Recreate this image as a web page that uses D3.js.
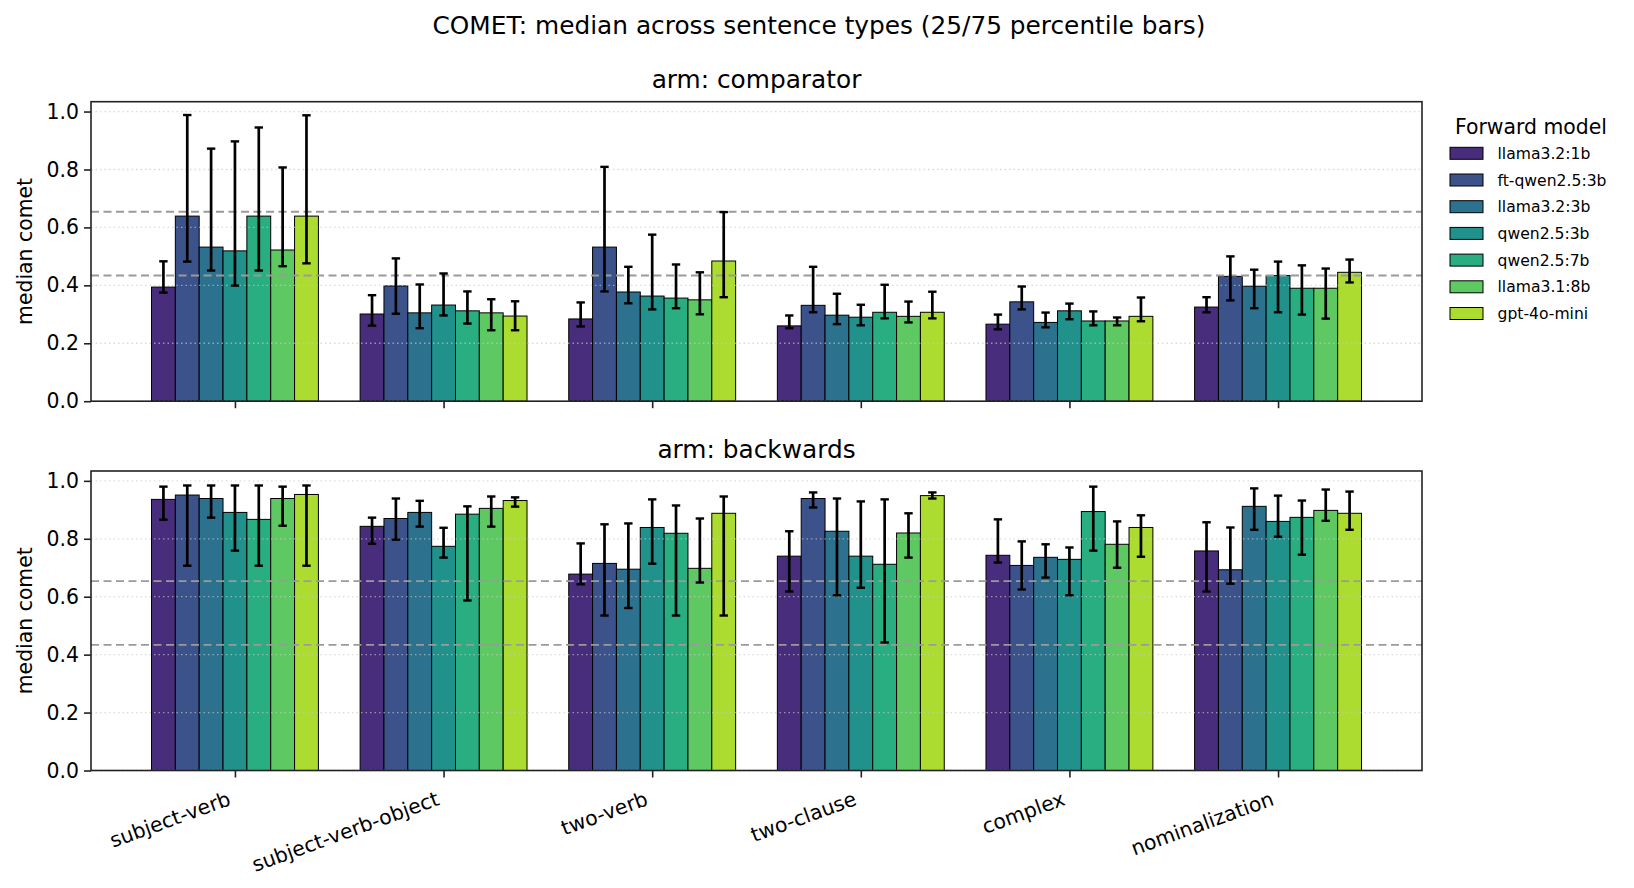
<!DOCTYPE html>
<html>
<head>
<meta charset="utf-8">
<script src="https://cdn.jsdelivr.net/npm/d3@7"></script>
<style>
  body { margin: 0; background: #fff; }
  svg { font-family: 'DejaVu Sans', sans-serif; }
</style>
</head>
<body>
<div id="chart"></div>
<script>
// Sentence types on the x axis
const sentenceTypes = ['subject-verb', 'subject-verb-object', 'two-verb', 'two-clause', 'complex', 'nominalization']
// Forward models (legend order)
const models = ['llama3.2:1b', 'ft-qwen2.5:3b', 'llama3.2:3b', 'qwen2.5:3b', 'qwen2.5:7b', 'llama3.1:8b', 'gpt-4o-mini']

// arm: comparator -- rows = sentence type, columns = model
const comparatorMedian = [
  [0.394, 0.639, 0.532, 0.519, 0.639, 0.522, 0.639],
  [0.301, 0.398, 0.305, 0.332, 0.312, 0.305, 0.294],
  [0.284, 0.532, 0.377, 0.363, 0.356, 0.350, 0.484],
  [0.260, 0.331, 0.297, 0.290, 0.307, 0.293, 0.307],
  [0.266, 0.343, 0.272, 0.312, 0.277, 0.277, 0.293],
  [0.325, 0.431, 0.397, 0.434, 0.390, 0.390, 0.445]
]
const comparatorP25 = [
  [0.375, 0.482, 0.451, 0.399, 0.451, 0.466, 0.476],
  [0.261, 0.302, 0.252, 0.296, 0.268, 0.245, 0.245],
  [0.258, 0.379, 0.338, 0.317, 0.321, 0.300, 0.359],
  [0.252, 0.307, 0.266, 0.262, 0.286, 0.272, 0.286],
  [0.248, 0.317, 0.255, 0.283, 0.262, 0.262, 0.276],
  [0.307, 0.348, 0.321, 0.307, 0.299, 0.285, 0.410]
]
const comparatorP75 = [
  [0.483, 0.988, 0.872, 0.897, 0.945, 0.807, 0.987],
  [0.366, 0.493, 0.403, 0.441, 0.379, 0.352, 0.345],
  [0.341, 0.809, 0.464, 0.575, 0.472, 0.445, 0.653],
  [0.296, 0.464, 0.371, 0.333, 0.402, 0.344, 0.378],
  [0.299, 0.396, 0.306, 0.337, 0.310, 0.289, 0.358],
  [0.359, 0.500, 0.454, 0.482, 0.469, 0.458, 0.489]
]

// arm: backwards
const backwardsMedian = [
  [0.936, 0.951, 0.939, 0.891, 0.867, 0.939, 0.953],
  [0.843, 0.870, 0.891, 0.774, 0.885, 0.905, 0.932],
  [0.678, 0.715, 0.695, 0.839, 0.819, 0.698, 0.888],
  [0.740, 0.939, 0.826, 0.740, 0.712, 0.820, 0.949],
  [0.743, 0.708, 0.736, 0.729, 0.894, 0.781, 0.839],
  [0.758, 0.693, 0.912, 0.860, 0.874, 0.898, 0.888]
]
const backwardsP25 = [
  [0.866, 0.707, 0.873, 0.759, 0.707, 0.845, 0.707],
  [0.783, 0.797, 0.842, 0.735, 0.587, 0.842, 0.911],
  [0.643, 0.535, 0.561, 0.714, 0.535, 0.649, 0.535],
  [0.618, 0.908, 0.605, 0.631, 0.442, 0.735, 0.939],
  [0.718, 0.625, 0.666, 0.605, 0.759, 0.700, 0.738],
  [0.618, 0.645, 0.831, 0.807, 0.745, 0.862, 0.831]
]
const backwardsP75 = [
  [0.980, 0.984, 0.984, 0.984, 0.984, 0.980, 0.984],
  [0.873, 0.939, 0.931, 0.838, 0.912, 0.946, 0.943],
  [0.784, 0.850, 0.853, 0.936, 0.915, 0.870, 0.946],
  [0.826, 0.960, 0.939, 0.929, 0.936, 0.888, 0.960],
  [0.867, 0.791, 0.781, 0.770, 0.980, 0.860, 0.881],
  [0.857, 0.839, 0.974, 0.949, 0.932, 0.970, 0.963]
]

// Horizontal reference lines (dashed)
const refLines = [0.654, 0.434]
const yTicks = [0.0, 0.2, 0.4, 0.6, 0.8, 1.0]

const panels = [
  { title: 'arm: comparator', median: comparatorMedian, p25: comparatorP25, p75: comparatorP75, top: 101.7, showLabels: false },
  { title: 'arm: backwards', median: backwardsMedian, p25: backwardsP25, p75: backwardsP75, top: 471, showLabels: true }
]

const W = 1634
const H = 888
const plotLeft = 91
const plotRight = 1422
const plotHeight = 299.5
const groupWidth = 0.8
const barW = groupWidth / models.length

const color = d3.scaleOrdinal()
  .domain(models)
  .range(models.map((m, i) => d3.interpolateViridis((i + 1) / (models.length + 1))))

const svg = d3.select('#chart').append('svg')
  .attr('width', W)
  .attr('height', H)

// Figure title
svg.append('text')
  .attr('x', 819)
  .attr('y', 34)
  .attr('text-anchor', 'middle')
  .attr('font-size', 24.8)
  .text('COMET: median across sentence types (25/75 percentile bars)')

// matplotlib-like x limits: bars span -0.4..5.4 with 5% margins
const x = d3.scaleLinear()
  .domain([-0.69, sentenceTypes.length - 1 + 0.69])
  .range([plotLeft, plotRight])

panels.forEach(p => {
  const y = d3.scaleLinear().domain([0, 1.034]).range([p.top + plotHeight, p.top])
  const g = svg.append('g')

  // Bars
  sentenceTypes.forEach((st, i) => {
    g.selectAll(null)
      .data(models)
      .enter().append('rect')
      .attr('x', (m, j) => x(i + (j - (models.length - 1) / 2) * barW - barW / 2))
      .attr('width', x(barW) - x(0))
      .attr('y', (m, j) => y(p.median[i][j]))
      .attr('height', (m, j) => y(0) - y(p.median[i][j]))
      .attr('fill', m => color(m))
      .attr('stroke', '#000')
      .attr('stroke-width', 1)
  })

  // Dotted y grid (drawn over bars)
  g.selectAll('.grid')
    .data(yTicks)
    .enter().append('line')
    .attr('x1', plotLeft)
    .attr('x2', plotRight)
    .attr('y1', d => y(d))
    .attr('y2', d => y(d))
    .attr('stroke', '#c8c8c8')
    .attr('stroke-opacity', 0.65)
    .attr('stroke-width', 1.3)
    .attr('stroke-dasharray', '1.5,3')

  // Dashed reference lines
  g.selectAll('.ref')
    .data(refLines)
    .enter().append('line')
    .attr('x1', plotLeft)
    .attr('x2', plotRight)
    .attr('y1', d => y(d))
    .attr('y2', d => y(d))
    .attr('stroke', '#9a9a9a')
    .attr('stroke-width', 1.8)
    .attr('stroke-dasharray', '8,4.5')

  // Error bars (25/75 percentile)
  sentenceTypes.forEach((st, i) => {
    models.forEach((m, j) => {
      const cx = x(i + (j - (models.length - 1) / 2) * barW)
      const lo = y(p.p25[i][j])
      const hi = y(p.p75[i][j])
      g.append('line').attr('x1', cx).attr('x2', cx).attr('y1', lo).attr('y2', hi)
        .attr('stroke', '#000').attr('stroke-width', 2.7)
      ;[lo, hi].forEach(v => {
        g.append('line').attr('x1', cx - 4.2).attr('x2', cx + 4.2).attr('y1', v).attr('y2', v)
          .attr('stroke', '#000').attr('stroke-width', 2.4)
      })
    })
  })

  // Y axis
  const yAxis = g.append('g')
    .attr('transform', `translate(${plotLeft},0)`)
    .call(d3.axisLeft(y).tickValues(yTicks).tickFormat(d3.format('.1f')).tickSize(7).tickPadding(5))
  yAxis.select('.domain').remove()
  yAxis.selectAll('.tick line').attr('stroke', '#222').attr('stroke-width', 1.6)
  yAxis.selectAll('.tick text').attr('font-size', 20.4).attr('fill', '#000').attr('font-family', 'DejaVu Sans')

  // X axis ticks
  const xAxis = g.append('g')
    .attr('transform', `translate(0,${p.top + plotHeight})`)
    .call(d3.axisBottom(x).tickValues(d3.range(sentenceTypes.length)).tickFormat('').tickSize(7))
  xAxis.select('.domain').remove()
  xAxis.selectAll('.tick line').attr('stroke', '#222').attr('stroke-width', 1.6)

  if (p.showLabels) {
    g.selectAll('.xlabel')
      .data(sentenceTypes)
      .enter().append('text')
      .attr('transform', (d, i) => `translate(${x(i) - 3},${p.top + plotHeight + 34}) rotate(-20)`)
      .attr('text-anchor', 'end')
      .attr('font-size', 20.4)
      .text(d => d)
  }

  // Frame
  g.append('rect')
    .attr('x', plotLeft)
    .attr('y', p.top)
    .attr('width', plotRight - plotLeft)
    .attr('height', plotHeight)
    .attr('fill', 'none')
    .attr('stroke', '#222')
    .attr('stroke-width', 1.6)

  // Panel title
  g.append('text')
    .attr('x', (plotLeft + plotRight) / 2)
    .attr('y', p.top - 13.5)
    .attr('text-anchor', 'middle')
    .attr('font-size', 24.8)
    .text(p.title)

  // Y label
  g.append('text')
    .attr('transform', `translate(32,${p.top + plotHeight / 2}) rotate(-90)`)
    .attr('text-anchor', 'middle')
    .attr('font-size', 20.4)
    .text('median comet')
})

// Legend
const legend = svg.append('g')
legend.append('text')
  .attr('x', 1531)
  .attr('y', 134)
  .attr('text-anchor', 'middle')
  .attr('font-size', 20.4)
  .text('Forward model')

const rows = legend.selectAll('.row')
  .data(models)
  .enter().append('g')
  .attr('transform', (d, i) => `translate(1450,${153.3 + i * 26.7})`)
rows.append('rect')
  .attr('x', 0)
  .attr('y', -6)
  .attr('width', 33)
  .attr('height', 12)
  .attr('fill', d => color(d))
  .attr('stroke', '#000')
  .attr('stroke-width', 1)
rows.append('text')
  .attr('x', 47.5)
  .attr('y', 5.6)
  .attr('font-size', 15.6)
  .text(d => d)
</script>
</body>
</html>
